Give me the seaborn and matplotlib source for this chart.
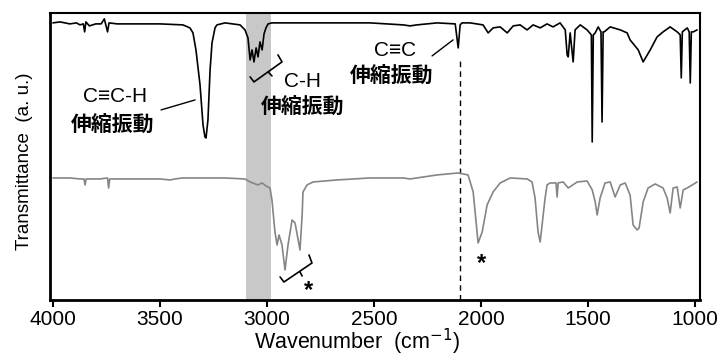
import matplotlib
matplotlib.use("Agg")
import matplotlib.pyplot as plt
import seaborn as sns
import pandas as pd
import numpy as np

# top spectrum (black) - wavenumber / transmittance (a.u.)
top_wn = [4000, 3967, 3921, 3890, 3874, 3858, 3852, 3846, 3830, 3800, 3775, 3760, 3745, 3738,
          3700, 3640, 3547, 3500, 3393, 3360, 3346, 3332, 3313, 3299, 3290, 3285, 3276,
          3266, 3257, 3243, 3234, 3196, 3126, 3103, 3089, 3079, 3070, 3061, 3051, 3042,
          3033, 3023, 3014, 3005, 2995, 2977, 2850, 2673, 2519, 2364, 2332, 2300, 2206,
          2121, 2107, 2098, 2089, 2051, 1991, 1967, 1944, 1911, 1878, 1850, 1818, 1785,
          1757, 1724, 1692, 1664, 1631, 1607, 1598, 1593, 1584, 1570, 1561, 1537, 1505,
          1485, 1481, 1476, 1467, 1453, 1440, 1435, 1430, 1425, 1397, 1350, 1318, 1304,
          1266, 1243, 1210, 1178, 1150, 1117, 1084, 1070, 1065, 1060, 1037, 1028, 1023,
          1018, 1009, 991]
top_tr = [277, 278, 276, 277, 275, 276, 268, 278, 274, 276, 276, 281, 268, 277,
          276, 276, 276, 276, 275, 272, 267, 250, 215, 175, 163, 162, 180,
          230, 257, 272, 275, 277, 275, 270, 262, 240, 250, 238, 252, 243,
          258, 250, 266, 272, 276, 277, 277, 277, 277, 275, 274, 275, 277,
          276, 252, 275, 277, 277, 275, 267, 272, 273, 267, 274, 275, 270,
          275, 272, 276, 273, 277, 270, 245, 243, 267, 238, 270, 275, 270,
          265, 158, 265, 267, 273, 268, 178, 268, 268, 273, 270, 267, 260,
          250, 238, 250, 263, 268, 273, 268, 265, 222, 268, 272, 268, 217,
          268, 268, 270]

# bottom spectrum (gray)
bot_wn = [4000, 3921, 3874, 3855, 3850, 3845, 3780, 3745, 3740, 3735, 3687, 3640, 3547,
          3500, 3453, 3430, 3393, 3313, 3200, 3103, 3079, 3042, 3023, 3005, 2986, 2977,
          2963, 2953, 2944, 2930, 2916, 2902, 2883, 2869, 2846, 2836, 2832, 2813, 2785,
          2673, 2519, 2364, 2332, 2206, 2107, 2061, 2037, 2014, 1995, 1972, 1944, 1911,
          1864, 1785, 1762, 1748, 1734, 1724, 1710, 1701, 1692, 1678, 1650, 1645, 1640,
          1617, 1593, 1551, 1505, 1481, 1467, 1458, 1444, 1421, 1397, 1374, 1350, 1327,
          1304, 1290, 1271, 1262, 1243, 1220, 1187, 1150, 1131, 1117, 1103, 1084, 1070,
          1056, 1037, 1014, 991]
bot_tr = [122, 122, 121, 121, 115, 121, 121, 122, 112, 121, 121, 121, 121,
          121, 120, 121, 122, 122, 122, 121, 118, 115, 117, 114, 112, 100,
          68, 55, 65, 55, 30, 55, 80, 77, 50, 85, 108, 115, 118,
          120, 122, 122, 121, 125, 127, 125, 108, 57, 68, 95, 108, 117,
          122, 121, 118, 102, 68, 58, 85, 102, 115, 117, 117, 103, 117,
          118, 112, 118, 119, 110, 98, 85, 102, 117, 118, 103, 115, 117,
          105, 75, 70, 72, 98, 112, 116, 112, 102, 87, 112, 113, 92,
          110, 112, 115, 118]

band = (3100, 2980)
cc_line = 2100

sns.set_theme(style="white")
plt.rcParams["font.family"] = ["Liberation Sans", "Noto Sans CJK JP", "DejaVu Sans"]
plt.rcParams["text.color"] = "black"
plt.rcParams["axes.labelcolor"] = "black"
plt.rcParams["xtick.color"] = "black"
jp = ["Noto Sans CJK JP", "DejaVu Sans"]

fig = plt.figure(figsize=(7.24, 3.58), dpi=100)
ax = fig.add_axes([0.069, 0.162, 0.898, 0.802])

ax.axvspan(band[0], band[1], color="#c8c8c8", lw=0, zorder=0)
ax.vlines(cc_line, 0, 243, colors="black", linestyles=(0, (4, 3)), lw=1.0, zorder=1)

df_top = pd.DataFrame({"wn": top_wn, "tr": top_tr})
df_bot = pd.DataFrame({"wn": bot_wn, "tr": bot_tr})
sns.lineplot(data=df_bot, x="wn", y="tr", color="#858585", lw=1.2, estimator=None, sort=False, ax=ax)
sns.lineplot(data=df_top, x="wn", y="tr", color="black", lw=1.2, estimator=None, sort=False, ax=ax)

ax.set_xlim(4014, 977)
ax.set_ylim(0, 287)
ax.set_yticks([])
ax.set_xticks([4000, 3500, 3000, 2500, 2000, 1500, 1000])
ax.tick_params(axis="x", direction="out", length=5, width=1.5, labelsize=15, pad=2,
               bottom=True, color="black")
for s in ax.spines.values():
    s.set_color("black")
    s.set_linewidth(1.5)
ax.spines["bottom"].set_linewidth(2)
ax.spines["left"].set_linewidth(2)

ax.set_xlabel("Wavenumber  (cm$^{-1}$)", fontsize=15.5)
ax.set_ylabel("Transmittance  (a. u.)", fontsize=13.5)
ax.xaxis.set_label_coords(0.472, -0.095)
ax.yaxis.set_label_coords(-0.026, 0.484)

# annotations
kw = dict(ha="center", va="center", fontsize=15)
ax.text(3710, 203, "C≡C-H", **kw)
ax.text(3720, 175, "伸縮振動", family=jp, fontweight="bold", **kw)
ax.plot([3495, 3336], [190, 200], color="black", lw=1)

ax.text(2832, 218, "C-H", **kw)
ax.text(2836, 193, "伸縮振動", family=jp, fontweight="bold", **kw)
ax.plot([3079, 3061, 2930, 2949], [223, 218, 238, 245], color="black", lw=1.2)
ax.plot([2995, 2977], [228, 224], color="black", lw=1.2)

ax.text(2402, 249, "C≡C", **kw)
ax.text(2416, 224, "伸縮振動", family=jp, fontweight="bold", **kw)
ax.plot([2229, 2131], [244, 260], color="black", lw=1)

ax.plot([2939, 2921, 2790, 2804], [23, 18, 37, 45], color="black", lw=1.2)
ax.plot([2846, 2836], [28, 24], color="black", lw=1.2)
ax.text(2804, 9, "*", ha="center", va="center", fontsize=17, fontweight="bold")
ax.text(2000, 36, "*", ha="center", va="center", fontsize=17, fontweight="bold")

fig.savefig("out.png", dpi=100)
